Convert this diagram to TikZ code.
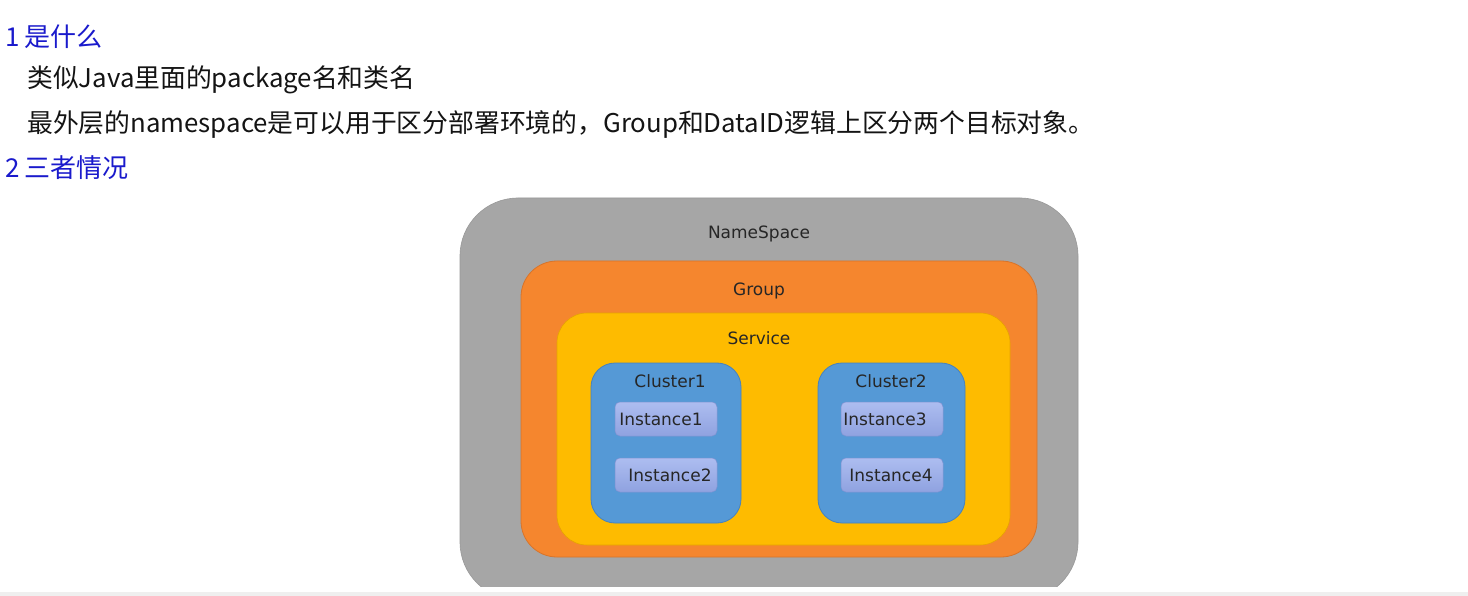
\documentclass[tikz,border=0pt]{standalone}
\usepackage{fontspec}
\newfontfamily\cjk{Noto Sans CJK SC}
\newfontfamily\dv{DejaVu Sans}
\definecolor{nsgray}{HTML}{A6A6A6}
\definecolor{nsedge}{HTML}{989898}
\definecolor{grporange}{HTML}{F5862E}
\definecolor{grpedge}{HTML}{D8742A}
\definecolor{svcyellow}{HTML}{FEBB00}
\definecolor{svcedge}{HTML}{E6A400}
\definecolor{clblue}{HTML}{5599D6}
\definecolor{cledge}{HTML}{4682BE}
\definecolor{insttop}{HTML}{ADBDF0}
\definecolor{instbot}{HTML}{8FA2E0}
\definecolor{instedge}{HTML}{7F93D2}
\definecolor{headblue}{HTML}{1A1ACC}
\definecolor{bandgray}{HTML}{EFEFEF}
\tikzset{
  box/.style={inner sep=0pt, outer sep=0pt},
  nsbox/.style={box, fill=nsgray, draw=nsedge, line width=0.6pt, rounded corners=58pt},
  grpbox/.style={box, fill=grporange, draw=grpedge, line width=0.8pt, rounded corners=36pt},
  svcbox/.style={box, fill=svcyellow, draw=svcedge, line width=0.6pt, rounded corners=30pt},
  clbox/.style={box, fill=clblue, draw=cledge, line width=0.8pt, rounded corners=24pt},
  instbox/.style={box, top color=insttop, bottom color=instbot, draw=instedge, line width=0.5pt, rounded corners=5pt},
  lbl/.style={inner sep=0pt, font=\dv\fontsize{17}{20}\selectfont, text=black!85},
  head/.style={anchor=west, inner sep=0pt, font=\cjk\fontsize{26}{30}\selectfont, text=headblue},
  body/.style={anchor=west, inner sep=0pt, font=\cjk\fontsize{25.8}{30}\selectfont, text=black!92},
}
\begin{document}
\begin{tikzpicture}[x=1pt,y=-1pt]
\useasboundingbox (0,0) rectangle (1468,596);
\fill[white] (0,0) rectangle (1468,596);
\fill[bandgray] (0,592) rectangle (1468,596);

% heading texts
\node[head] (h1) at (5,37) {1\hspace{5pt}是什么};
\node[body] (t1) at (27,80) {类似Java里面的package名和类名};
\node[body] (t2) at (27,125) {最外层的namespace是可以用于区分部署环境的，Group和DataID逻辑上区分两个目标对象。};
\node[head] (h2) at (5,168) {2\hspace{5pt}三者情况};

% diagram
\begin{scope}
\clip (0,0) rectangle (1468,586);
\node[nsbox, minimum width=618pt, minimum height=402pt] (ns) at (769,399) {};
\end{scope}
\node[grpbox, minimum width=516pt, minimum height=296pt] (grp) at (779,409) {};
\node[svcbox, minimum width=453pt, minimum height=232pt] (svc) at (783.5,429) {};
\node[clbox, minimum width=150pt, minimum height=160pt] (cl1) at (666,443) {};
\node[clbox, minimum width=147pt, minimum height=160pt] (cl2) at (891.5,443) {};
\node[instbox, minimum width=102pt, minimum height=34pt] (i1) at (666,419) {};
\node[instbox, minimum width=102pt, minimum height=34pt] (i2) at (666,475) {};
\node[instbox, minimum width=102pt, minimum height=34pt] (i3) at (892,419) {};
\node[instbox, minimum width=102pt, minimum height=34pt] (i4) at (892,475) {};

\node[lbl] (nsl) at (759,234) {NameSpace};
\node[lbl] (grpl) at (759,291) {Group};
\node[lbl] (svcl) at (759,338) {Service};
\node[lbl] (cl1l) at (670,381) {Cluster1};
\node[lbl] (cl2l) at (891,381) {Cluster2};
\node[lbl] (i1l) at (661,419) {Instance1};
\node[lbl] (i2l) at (670,475) {Instance2};
\node[lbl] (i3l) at (885,419) {Instance3};
\node[lbl] (i4l) at (891,475) {Instance4};
\end{tikzpicture}
\end{document}
